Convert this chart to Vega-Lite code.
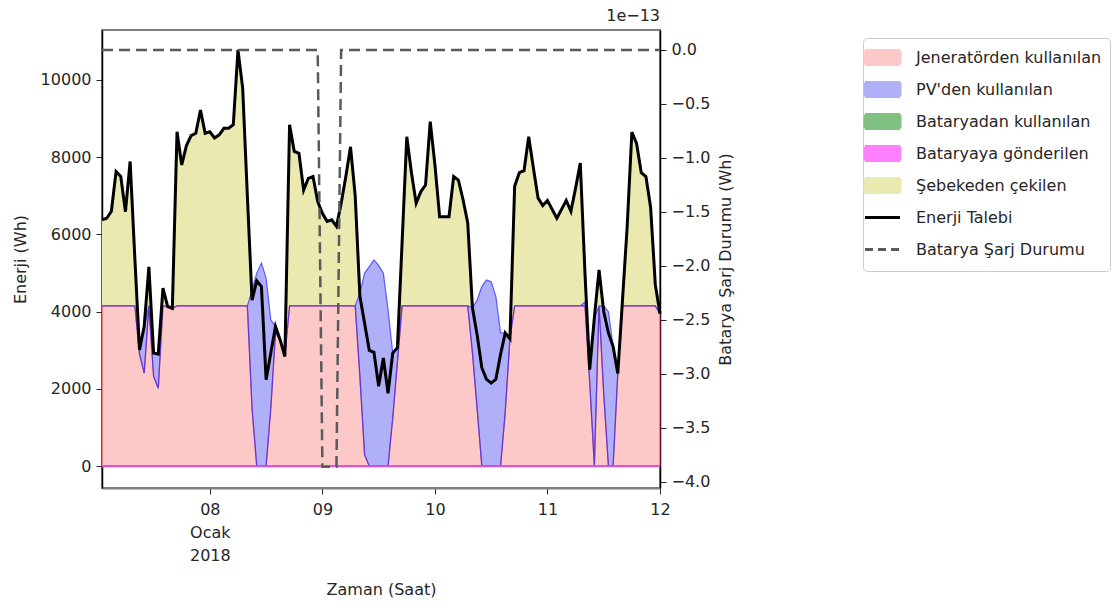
{
  "$schema": "https://vega.github.io/schema/vega-lite/v6.json",
  "width": 558,
  "height": 458,
  "autosize": {"type": "none"},
  "padding": {"left": 102, "top": 30, "right": 455, "bottom": 117},
  "background": "white",
  "config": {
    "font": "DejaVu Sans",
    "view": {"stroke": "#7f7f7f", "strokeWidth": 2},
    "axis": {
      "labelFont": "DejaVu Sans", "titleFont": "DejaVu Sans",
      "labelFontSize": 16, "titleFontSize": 16, "titleFontWeight": "normal",
      "labelColor": "#262626", "titleColor": "#262626",
      "tickColor": "#262626", "domainColor": "#262626",
      "tickSize": 6, "grid": false
    }
  },
  "title": {"text": "1e−13", "anchor": "end", "frame": "group", "fontSize": 16, "fontWeight": "normal", "color": "#262626", "offset": 6, "font": "DejaVu Sans"},
  "data": {"values": [
    {"t":"2018-01-07T01:00:00Z","b_gen":4150,"c_pv":0,"d_bu":0,"a_bs":0,"e_grid":2230,"dem":6380,"soc":0},
    {"t":"2018-01-07T02:00:00Z","b_gen":4150,"c_pv":0,"d_bu":0,"a_bs":0,"e_grid":2270,"dem":6420,"soc":0},
    {"t":"2018-01-07T03:00:00Z","b_gen":4150,"c_pv":0,"d_bu":0,"a_bs":0,"e_grid":2450,"dem":6600,"soc":0},
    {"t":"2018-01-07T04:00:00Z","b_gen":4150,"c_pv":0,"d_bu":0,"a_bs":0,"e_grid":3480,"dem":7630,"soc":0},
    {"t":"2018-01-07T05:00:00Z","b_gen":4150,"c_pv":0,"d_bu":0,"a_bs":0,"e_grid":3350,"dem":7500,"soc":0},
    {"t":"2018-01-07T06:00:00Z","b_gen":4150,"c_pv":0,"d_bu":0,"a_bs":0,"e_grid":2440,"dem":6590,"soc":0},
    {"t":"2018-01-07T07:00:00Z","b_gen":4150,"c_pv":0,"d_bu":0,"a_bs":0,"e_grid":3740,"dem":7890,"soc":0},
    {"t":"2018-01-07T08:00:00Z","b_gen":4150,"c_pv":0,"d_bu":0,"a_bs":0,"e_grid":1250,"dem":5400,"soc":0},
    {"t":"2018-01-07T09:00:00Z","b_gen":2900,"c_pv":110,"d_bu":0,"a_bs":0,"e_grid":0,"dem":3010,"soc":0},
    {"t":"2018-01-07T10:00:00Z","b_gen":2410,"c_pv":1210,"d_bu":0,"a_bs":0,"e_grid":0,"dem":3620,"soc":0},
    {"t":"2018-01-07T11:00:00Z","b_gen":4150,"c_pv":0,"d_bu":0,"a_bs":0,"e_grid":1010,"dem":5160,"soc":0},
    {"t":"2018-01-07T12:00:00Z","b_gen":2330,"c_pv":600,"d_bu":0,"a_bs":0,"e_grid":0,"dem":2930,"soc":0},
    {"t":"2018-01-07T13:00:00Z","b_gen":2020,"c_pv":880,"d_bu":0,"a_bs":0,"e_grid":0,"dem":2900,"soc":0},
    {"t":"2018-01-07T14:00:00Z","b_gen":4150,"c_pv":0,"d_bu":0,"a_bs":0,"e_grid":460,"dem":4610,"soc":0},
    {"t":"2018-01-07T15:00:00Z","b_gen":4135,"c_pv":0,"d_bu":0,"a_bs":0,"e_grid":0,"dem":4135,"soc":0},
    {"t":"2018-01-07T16:00:00Z","b_gen":4090,"c_pv":0,"d_bu":0,"a_bs":0,"e_grid":0,"dem":4090,"soc":0},
    {"t":"2018-01-07T17:00:00Z","b_gen":4150,"c_pv":0,"d_bu":0,"a_bs":0,"e_grid":4510,"dem":8660,"soc":0},
    {"t":"2018-01-07T18:00:00Z","b_gen":4150,"c_pv":0,"d_bu":0,"a_bs":0,"e_grid":3650,"dem":7800,"soc":0},
    {"t":"2018-01-07T19:00:00Z","b_gen":4150,"c_pv":0,"d_bu":0,"a_bs":0,"e_grid":4150,"dem":8300,"soc":0},
    {"t":"2018-01-07T20:00:00Z","b_gen":4150,"c_pv":0,"d_bu":0,"a_bs":0,"e_grid":4410,"dem":8560,"soc":0},
    {"t":"2018-01-07T21:00:00Z","b_gen":4150,"c_pv":0,"d_bu":0,"a_bs":0,"e_grid":4470,"dem":8620,"soc":0},
    {"t":"2018-01-07T22:00:00Z","b_gen":4150,"c_pv":0,"d_bu":0,"a_bs":0,"e_grid":5070,"dem":9220,"soc":0},
    {"t":"2018-01-07T23:00:00Z","b_gen":4150,"c_pv":0,"d_bu":0,"a_bs":0,"e_grid":4470,"dem":8620,"soc":0},
    {"t":"2018-01-08T00:00:00Z","b_gen":4150,"c_pv":0,"d_bu":0,"a_bs":0,"e_grid":4510,"dem":8660,"soc":0},
    {"t":"2018-01-08T01:00:00Z","b_gen":4150,"c_pv":0,"d_bu":0,"a_bs":0,"e_grid":4350,"dem":8500,"soc":0},
    {"t":"2018-01-08T02:00:00Z","b_gen":4150,"c_pv":0,"d_bu":0,"a_bs":0,"e_grid":4430,"dem":8580,"soc":0},
    {"t":"2018-01-08T03:00:00Z","b_gen":4150,"c_pv":0,"d_bu":0,"a_bs":0,"e_grid":4600,"dem":8750,"soc":0},
    {"t":"2018-01-08T04:00:00Z","b_gen":4150,"c_pv":0,"d_bu":0,"a_bs":0,"e_grid":4600,"dem":8750,"soc":0},
    {"t":"2018-01-08T05:00:00Z","b_gen":4150,"c_pv":0,"d_bu":0,"a_bs":0,"e_grid":4690,"dem":8840,"soc":0},
    {"t":"2018-01-08T06:00:00Z","b_gen":4150,"c_pv":0,"d_bu":0,"a_bs":0,"e_grid":6630,"dem":10780,"soc":0},
    {"t":"2018-01-08T07:00:00Z","b_gen":4150,"c_pv":0,"d_bu":0,"a_bs":0,"e_grid":5640,"dem":9790,"soc":0},
    {"t":"2018-01-08T08:00:00Z","b_gen":4150,"c_pv":0,"d_bu":0,"a_bs":0,"e_grid":2850,"dem":7000,"soc":0},
    {"t":"2018-01-08T09:00:00Z","b_gen":1500,"c_pv":3060,"d_bu":0,"a_bs":0,"e_grid":0,"dem":4300,"soc":0},
    {"t":"2018-01-08T10:00:00Z","b_gen":0,"c_pv":5000,"d_bu":0,"a_bs":0,"e_grid":0,"dem":4800,"soc":0},
    {"t":"2018-01-08T11:00:00Z","b_gen":0,"c_pv":5260,"d_bu":0,"a_bs":0,"e_grid":0,"dem":4650,"soc":0},
    {"t":"2018-01-08T12:00:00Z","b_gen":0,"c_pv":4870,"d_bu":0,"a_bs":0,"e_grid":0,"dem":2240,"soc":0},
    {"t":"2018-01-08T13:00:00Z","b_gen":1500,"c_pv":2290,"d_bu":0,"a_bs":0,"e_grid":0,"dem":2930,"soc":0},
    {"t":"2018-01-08T14:00:00Z","b_gen":3450,"c_pv":170,"d_bu":0,"a_bs":0,"e_grid":0,"dem":3620,"soc":0},
    {"t":"2018-01-08T15:00:00Z","b_gen":3270,"c_pv":0,"d_bu":0,"a_bs":0,"e_grid":0,"dem":3270,"soc":0},
    {"t":"2018-01-08T16:00:00Z","b_gen":2840,"c_pv":0,"d_bu":0,"a_bs":0,"e_grid":0,"dem":2840,"soc":0},
    {"t":"2018-01-08T17:00:00Z","b_gen":4150,"c_pv":0,"d_bu":0,"a_bs":0,"e_grid":4690,"dem":8840,"soc":0},
    {"t":"2018-01-08T18:00:00Z","b_gen":4150,"c_pv":0,"d_bu":0,"a_bs":0,"e_grid":4000,"dem":8150,"soc":0},
    {"t":"2018-01-08T19:00:00Z","b_gen":4150,"c_pv":0,"d_bu":0,"a_bs":0,"e_grid":3950,"dem":8100,"soc":0},
    {"t":"2018-01-08T20:00:00Z","b_gen":4150,"c_pv":0,"d_bu":0,"a_bs":0,"e_grid":3000,"dem":7150,"soc":0},
    {"t":"2018-01-08T21:00:00Z","b_gen":4150,"c_pv":0,"d_bu":0,"a_bs":0,"e_grid":3300,"dem":7450,"soc":0},
    {"t":"2018-01-08T22:00:00Z","b_gen":4150,"c_pv":0,"d_bu":0,"a_bs":0,"e_grid":3350,"dem":7500,"soc":0},
    {"t":"2018-01-08T23:00:00Z","b_gen":4150,"c_pv":0,"d_bu":0,"a_bs":0,"e_grid":2700,"dem":6850,"soc":0},
    {"t":"2018-01-09T00:00:00Z","b_gen":4150,"c_pv":0,"d_bu":0,"a_bs":0,"e_grid":2400,"dem":6550,"soc":-3.86},
    {"t":"2018-01-09T01:00:00Z","b_gen":4150,"c_pv":0,"d_bu":0,"a_bs":0,"e_grid":2190,"dem":6340,"soc":-3.86},
    {"t":"2018-01-09T02:00:00Z","b_gen":4150,"c_pv":0,"d_bu":0,"a_bs":0,"e_grid":2230,"dem":6380,"soc":-3.86},
    {"t":"2018-01-09T03:00:00Z","b_gen":4150,"c_pv":0,"d_bu":0,"a_bs":0,"e_grid":2060,"dem":6210,"soc":-3.86},
    {"t":"2018-01-09T04:00:00Z","b_gen":4150,"c_pv":0,"d_bu":0,"a_bs":0,"e_grid":2650,"dem":6800,"soc":0},
    {"t":"2018-01-09T05:00:00Z","b_gen":4150,"c_pv":0,"d_bu":0,"a_bs":0,"e_grid":3350,"dem":7500,"soc":0},
    {"t":"2018-01-09T06:00:00Z","b_gen":4150,"c_pv":0,"d_bu":0,"a_bs":0,"e_grid":4120,"dem":8270,"soc":0},
    {"t":"2018-01-09T07:00:00Z","b_gen":4150,"c_pv":0,"d_bu":0,"a_bs":0,"e_grid":2850,"dem":7000,"soc":0},
    {"t":"2018-01-09T08:00:00Z","b_gen":2320,"c_pv":2160,"d_bu":0,"a_bs":0,"e_grid":0,"dem":4400,"soc":0},
    {"t":"2018-01-09T09:00:00Z","b_gen":300,"c_pv":4700,"d_bu":0,"a_bs":0,"e_grid":0,"dem":3700,"soc":0},
    {"t":"2018-01-09T10:00:00Z","b_gen":0,"c_pv":5170,"d_bu":0,"a_bs":0,"e_grid":0,"dem":3000,"soc":0},
    {"t":"2018-01-09T11:00:00Z","b_gen":0,"c_pv":5340,"d_bu":0,"a_bs":0,"e_grid":0,"dem":2950,"soc":0},
    {"t":"2018-01-09T12:00:00Z","b_gen":0,"c_pv":5200,"d_bu":0,"a_bs":0,"e_grid":0,"dem":2070,"soc":0},
    {"t":"2018-01-09T13:00:00Z","b_gen":0,"c_pv":5000,"d_bu":0,"a_bs":0,"e_grid":0,"dem":2800,"soc":0},
    {"t":"2018-01-09T14:00:00Z","b_gen":0,"c_pv":4050,"d_bu":0,"a_bs":0,"e_grid":0,"dem":1890,"soc":0},
    {"t":"2018-01-09T15:00:00Z","b_gen":1240,"c_pv":1690,"d_bu":0,"a_bs":0,"e_grid":0,"dem":2930,"soc":0},
    {"t":"2018-01-09T16:00:00Z","b_gen":2690,"c_pv":380,"d_bu":0,"a_bs":0,"e_grid":0,"dem":3070,"soc":0},
    {"t":"2018-01-09T17:00:00Z","b_gen":4150,"c_pv":0,"d_bu":0,"a_bs":0,"e_grid":1650,"dem":5800,"soc":0},
    {"t":"2018-01-09T18:00:00Z","b_gen":4150,"c_pv":0,"d_bu":0,"a_bs":0,"e_grid":4380,"dem":8530,"soc":0},
    {"t":"2018-01-09T19:00:00Z","b_gen":4150,"c_pv":0,"d_bu":0,"a_bs":0,"e_grid":3440,"dem":7590,"soc":0},
    {"t":"2018-01-09T20:00:00Z","b_gen":4150,"c_pv":0,"d_bu":0,"a_bs":0,"e_grid":2660,"dem":6810,"soc":0},
    {"t":"2018-01-09T21:00:00Z","b_gen":4150,"c_pv":0,"d_bu":0,"a_bs":0,"e_grid":2960,"dem":7110,"soc":0},
    {"t":"2018-01-09T22:00:00Z","b_gen":4150,"c_pv":0,"d_bu":0,"a_bs":0,"e_grid":3130,"dem":7280,"soc":0},
    {"t":"2018-01-09T23:00:00Z","b_gen":4150,"c_pv":0,"d_bu":0,"a_bs":0,"e_grid":4770,"dem":8920,"soc":0},
    {"t":"2018-01-10T00:00:00Z","b_gen":4150,"c_pv":0,"d_bu":0,"a_bs":0,"e_grid":3650,"dem":7800,"soc":0},
    {"t":"2018-01-10T01:00:00Z","b_gen":4150,"c_pv":0,"d_bu":0,"a_bs":0,"e_grid":2310,"dem":6460,"soc":0},
    {"t":"2018-01-10T02:00:00Z","b_gen":4150,"c_pv":0,"d_bu":0,"a_bs":0,"e_grid":2310,"dem":6460,"soc":0},
    {"t":"2018-01-10T03:00:00Z","b_gen":4150,"c_pv":0,"d_bu":0,"a_bs":0,"e_grid":2310,"dem":6460,"soc":0},
    {"t":"2018-01-10T04:00:00Z","b_gen":4150,"c_pv":0,"d_bu":0,"a_bs":0,"e_grid":3350,"dem":7500,"soc":0},
    {"t":"2018-01-10T05:00:00Z","b_gen":4150,"c_pv":0,"d_bu":0,"a_bs":0,"e_grid":3260,"dem":7410,"soc":0},
    {"t":"2018-01-10T06:00:00Z","b_gen":4150,"c_pv":0,"d_bu":0,"a_bs":0,"e_grid":2750,"dem":6900,"soc":0},
    {"t":"2018-01-10T07:00:00Z","b_gen":4150,"c_pv":0,"d_bu":0,"a_bs":0,"e_grid":2150,"dem":6300,"soc":0},
    {"t":"2018-01-10T08:00:00Z","b_gen":2940,"c_pv":1160,"d_bu":0,"a_bs":0,"e_grid":0,"dem":4100,"soc":0},
    {"t":"2018-01-10T09:00:00Z","b_gen":1490,"c_pv":2810,"d_bu":0,"a_bs":0,"e_grid":0,"dem":3400,"soc":0},
    {"t":"2018-01-10T10:00:00Z","b_gen":0,"c_pv":4650,"d_bu":0,"a_bs":0,"e_grid":0,"dem":2550,"soc":0},
    {"t":"2018-01-10T11:00:00Z","b_gen":0,"c_pv":4825,"d_bu":0,"a_bs":0,"e_grid":0,"dem":2250,"soc":0},
    {"t":"2018-01-10T12:00:00Z","b_gen":0,"c_pv":4780,"d_bu":0,"a_bs":0,"e_grid":0,"dem":2150,"soc":0},
    {"t":"2018-01-10T13:00:00Z","b_gen":0,"c_pv":4390,"d_bu":0,"a_bs":0,"e_grid":0,"dem":2250,"soc":0},
    {"t":"2018-01-10T14:00:00Z","b_gen":0,"c_pv":3450,"d_bu":0,"a_bs":0,"e_grid":0,"dem":2900,"soc":0},
    {"t":"2018-01-10T15:00:00Z","b_gen":1410,"c_pv":2040,"d_bu":0,"a_bs":0,"e_grid":0,"dem":3450,"soc":0},
    {"t":"2018-01-10T16:00:00Z","b_gen":3300,"c_pv":0,"d_bu":0,"a_bs":0,"e_grid":0,"dem":3300,"soc":0},
    {"t":"2018-01-10T17:00:00Z","b_gen":4150,"c_pv":0,"d_bu":0,"a_bs":0,"e_grid":3100,"dem":7250,"soc":0},
    {"t":"2018-01-10T18:00:00Z","b_gen":4150,"c_pv":0,"d_bu":0,"a_bs":0,"e_grid":3450,"dem":7600,"soc":0},
    {"t":"2018-01-10T19:00:00Z","b_gen":4150,"c_pv":0,"d_bu":0,"a_bs":0,"e_grid":3500,"dem":7650,"soc":0},
    {"t":"2018-01-10T20:00:00Z","b_gen":4150,"c_pv":0,"d_bu":0,"a_bs":0,"e_grid":4380,"dem":8530,"soc":0},
    {"t":"2018-01-10T21:00:00Z","b_gen":4150,"c_pv":0,"d_bu":0,"a_bs":0,"e_grid":3570,"dem":7720,"soc":0},
    {"t":"2018-01-10T22:00:00Z","b_gen":4150,"c_pv":0,"d_bu":0,"a_bs":0,"e_grid":2790,"dem":6940,"soc":0},
    {"t":"2018-01-10T23:00:00Z","b_gen":4150,"c_pv":0,"d_bu":0,"a_bs":0,"e_grid":2600,"dem":6750,"soc":0},
    {"t":"2018-01-11T00:00:00Z","b_gen":4150,"c_pv":0,"d_bu":0,"a_bs":0,"e_grid":2730,"dem":6880,"soc":0},
    {"t":"2018-01-11T01:00:00Z","b_gen":4150,"c_pv":0,"d_bu":0,"a_bs":0,"e_grid":2500,"dem":6650,"soc":0},
    {"t":"2018-01-11T02:00:00Z","b_gen":4150,"c_pv":0,"d_bu":0,"a_bs":0,"e_grid":2270,"dem":6420,"soc":0},
    {"t":"2018-01-11T03:00:00Z","b_gen":4150,"c_pv":0,"d_bu":0,"a_bs":0,"e_grid":2500,"dem":6650,"soc":0},
    {"t":"2018-01-11T04:00:00Z","b_gen":4150,"c_pv":0,"d_bu":0,"a_bs":0,"e_grid":2730,"dem":6880,"soc":0},
    {"t":"2018-01-11T05:00:00Z","b_gen":4150,"c_pv":0,"d_bu":0,"a_bs":0,"e_grid":2450,"dem":6600,"soc":0},
    {"t":"2018-01-11T06:00:00Z","b_gen":4150,"c_pv":0,"d_bu":0,"a_bs":0,"e_grid":3050,"dem":7200,"soc":0},
    {"t":"2018-01-11T07:00:00Z","b_gen":4150,"c_pv":0,"d_bu":0,"a_bs":0,"e_grid":3700,"dem":7850,"soc":0},
    {"t":"2018-01-11T08:00:00Z","b_gen":4150,"c_pv":100,"d_bu":0,"a_bs":0,"e_grid":750,"dem":5000,"soc":0},
    {"t":"2018-01-11T09:00:00Z","b_gen":2200,"c_pv":300,"d_bu":0,"a_bs":0,"e_grid":0,"dem":2500,"soc":0},
    {"t":"2018-01-11T10:00:00Z","b_gen":0,"c_pv":3840,"d_bu":0,"a_bs":0,"e_grid":0,"dem":3840,"soc":0},
    {"t":"2018-01-11T11:00:00Z","b_gen":4150,"c_pv":0,"d_bu":0,"a_bs":0,"e_grid":930,"dem":5080,"soc":0},
    {"t":"2018-01-11T12:00:00Z","b_gen":1870,"c_pv":2280,"d_bu":0,"a_bs":0,"e_grid":0,"dem":4000,"soc":0},
    {"t":"2018-01-11T13:00:00Z","b_gen":0,"c_pv":4000,"d_bu":0,"a_bs":0,"e_grid":0,"dem":3450,"soc":0},
    {"t":"2018-01-11T14:00:00Z","b_gen":0,"c_pv":3100,"d_bu":0,"a_bs":0,"e_grid":0,"dem":3100,"soc":0},
    {"t":"2018-01-11T15:00:00Z","b_gen":2400,"c_pv":0,"d_bu":0,"a_bs":0,"e_grid":0,"dem":2400,"soc":0},
    {"t":"2018-01-11T16:00:00Z","b_gen":4150,"c_pv":0,"d_bu":0,"a_bs":0,"e_grid":150,"dem":4300,"soc":0},
    {"t":"2018-01-11T17:00:00Z","b_gen":4150,"c_pv":0,"d_bu":0,"a_bs":0,"e_grid":2050,"dem":6200,"soc":0},
    {"t":"2018-01-11T18:00:00Z","b_gen":4150,"c_pv":0,"d_bu":0,"a_bs":0,"e_grid":4500,"dem":8650,"soc":0},
    {"t":"2018-01-11T19:00:00Z","b_gen":4150,"c_pv":0,"d_bu":0,"a_bs":0,"e_grid":4210,"dem":8360,"soc":0},
    {"t":"2018-01-11T20:00:00Z","b_gen":4150,"c_pv":0,"d_bu":0,"a_bs":0,"e_grid":3450,"dem":7600,"soc":0},
    {"t":"2018-01-11T21:00:00Z","b_gen":4150,"c_pv":0,"d_bu":0,"a_bs":0,"e_grid":3350,"dem":7500,"soc":0},
    {"t":"2018-01-11T22:00:00Z","b_gen":4150,"c_pv":0,"d_bu":0,"a_bs":0,"e_grid":2550,"dem":6700,"soc":0},
    {"t":"2018-01-11T23:00:00Z","b_gen":4150,"c_pv":0,"d_bu":0,"a_bs":0,"e_grid":550,"dem":4700,"soc":0},
    {"t":"2018-01-12T00:00:00Z","b_gen":3950,"c_pv":0,"d_bu":0,"a_bs":0,"e_grid":0,"dem":3950,"soc":0}
  ]},
  "encoding": {
    "x": {
      "field": "t", "type": "temporal", "title": "Zaman (Saat)",
      "scale": {"type": "utc", "nice": false, "domain": [{"year": 2018, "month": 1, "date": 7, "hours": 1, "utc": true}, {"year": 2018, "month": 1, "date": 12, "utc": true}]},
      "axis": {
        "values": [{"year": 2018, "month": 1, "date": 8, "utc": true}, {"year": 2018, "month": 1, "date": 9, "utc": true}, {"year": 2018, "month": 1, "date": 10, "utc": true}, {"year": 2018, "month": 1, "date": 11, "utc": true}, {"year": 2018, "month": 1, "date": 12, "utc": true}],
        "labelExpr": "utcFormat(datum.value, '%d') == '08' ? ['08', 'Ocak', '2018'] : utcFormat(datum.value, '%d')",
        "labelLineHeight": 23, "labelPadding": 7, "labelFlush": false, "labelOverlap": false,
        "domainColor": "#7f7f7f", "domainWidth": 2, "titlePadding": 18
      }
    }
  },
  "layer": [
    {
      "layer": [
        {
          "transform": [{"fold": ["a_bs", "b_gen", "c_pv", "d_bu", "e_grid"], "as": ["key", "value"]}],
          "mark": {"type": "area", "opacity": 1, "strokeWidth": 0},
          "encoding": {
            "y": {"field": "value", "type": "quantitative", "stack": "zero", "title": "Enerji (Wh)",
              "scale": {"domain": [-564, 11294], "nice": false, "zero": false},
              "axis": {"values": [0, 2000, 4000, 6000, 8000, 10000], "format": "d", "labelPadding": 5, "titlePadding": 12, "domainWidth": 1.5, "domainColor": "#000000"}},
            "color": {"field": "key", "type": "nominal",
              "scale": {"domain": ["b_gen", "c_pv", "d_bu", "a_bs", "e_grid", "f_dem", "g_soc"], "range": ["#fcc8c8", "#b0b0f8", "#80c080", "#ff80ff", "#e9e9b0", "#000000", "#5a5a5a"]},
              "legend": {
                "orient": "none", "legendX": 761, "legendY": 8, "title": null,
                "labelFont": "DejaVu Sans", "labelFontSize": 16, "labelColor": "#262626", "labelLimit": 300,
                "symbolSize": 400, "labelOffset": 22, "rowPadding": 5, "padding": 8,
                "fillColor": "white", "strokeColor": "#cccccc", "cornerRadius": 4, "symbolOpacity": 1,
                "labelExpr": "datum.value == 'b_gen' ? 'Jeneratörden kullanılan' : datum.value == 'c_pv' ? \"PV'den kullanılan\" : datum.value == 'd_bu' ? 'Bataryadan kullanılan' : datum.value == 'a_bs' ? 'Bataryaya gönderilen' : datum.value == 'e_grid' ? 'Şebekeden çekilen' : datum.value == 'f_dem' ? 'Enerji Talebi' : 'Batarya Şarj Durumu'",
                "encode": {"symbols": {"update": {
                  "shape": {"signal": "datum.value == 'f_dem' || datum.value == 'g_soc' ? 'M-1.75,-0.7M-1.75,0H1.75M1.75,0.7' : 'M-1.75,-0.7H1.75V0.7H-1.75Z'"},
                  "fill": {"signal": "datum.value == 'b_gen' ? '#ffb3b3' : datum.value == 'c_pv' ? '#b3b3ff' : datum.value == 'd_bu' ? '#70b870' : datum.value == 'a_bs' ? '#ff70ff' : datum.value == 'e_grid' ? '#ffffb0' : 'transparent'"},
                  "stroke": {"signal": "datum.value == 'f_dem' ? '#222222' : datum.value == 'g_soc' ? '#555555' : 'transparent'"},
                  "strokeWidth": {"value": 3},
                  "strokeDash": {"signal": "datum.value == 'g_soc' ? [8, 5] : [1, 0]"},
                  "opacity": {"value": 1}
                }}}
              }},
            "order": {"field": "key", "sort": "ascending"}
          }
        },
        {
          "transform": [{"fold": ["a_bs", "b_gen", "c_pv", "d_bu", "e_grid"], "as": ["key", "value"]}],
          "mark": {"type": "area", "fillOpacity": 0, "strokeWidth": 1.2, "strokeOpacity": 0.75},
          "encoding": {
            "y": {"field": "value", "type": "quantitative", "stack": "zero", "title": "Enerji (Wh)",
              "scale": {"domain": [-564, 11294], "nice": false, "zero": false}},
            "stroke": {"field": "key", "type": "nominal", "legend": null,
              "scale": {"domain": ["a_bs", "b_gen", "c_pv", "d_bu", "e_grid"], "range": ["transparent", "#e8203c", "#3030ff", "transparent", "transparent"]}},
            "order": {"field": "key", "sort": "ascending"}
          }
        },
        {
          "mark": {"type": "line", "color": "#d94fd9", "strokeWidth": 2},
          "encoding": {
            "y": {"field": "a_bs", "type": "quantitative", "title": "Enerji (Wh)",
              "scale": {"domain": [-564, 11294], "nice": false, "zero": false}}
          }
        },
        {
          "mark": {"type": "line", "strokeWidth": 3},
          "encoding": {
            "y": {"field": "dem", "type": "quantitative", "title": "Enerji (Wh)",
              "scale": {"domain": [-564, 11294], "nice": false, "zero": false}},
            "color": {"datum": "f_dem", "type": "nominal",
              "scale": {"domain": ["b_gen", "c_pv", "d_bu", "a_bs", "e_grid", "f_dem", "g_soc"], "range": ["#fcc8c8", "#b0b0f8", "#80c080", "#ff80ff", "#e9e9b0", "#000000", "#5a5a5a"]}}
          }
        }
      ]
    },
    {
      "mark": {"type": "line", "strokeWidth": 2.5, "strokeDash": [11, 6]},
      "encoding": {
        "y": {"field": "soc", "type": "quantitative", "title": "Batarya Şarj Durumu (Wh)",
          "scale": {"domain": [-4.058, 0.185], "nice": false, "zero": false},
          "axis": {"orient": "right", "values": [-4, -3.5, -3, -2.5, -2, -1.5, -1, -0.5, 0], "format": ".1f", "titleAngle": 270, "titleBaseline": "top", "titlePadding": 8, "labelPadding": 5, "domainWidth": 1.5, "domainColor": "#000000"}},
        "color": {"datum": "g_soc", "type": "nominal",
          "scale": {"domain": ["b_gen", "c_pv", "d_bu", "a_bs", "e_grid", "f_dem", "g_soc"], "range": ["#fcc8c8", "#b0b0f8", "#80c080", "#ff80ff", "#e9e9b0", "#000000", "#5a5a5a"]}}
      }
    }
  ],
  "resolve": {"scale": {"y": "independent"}}
}
